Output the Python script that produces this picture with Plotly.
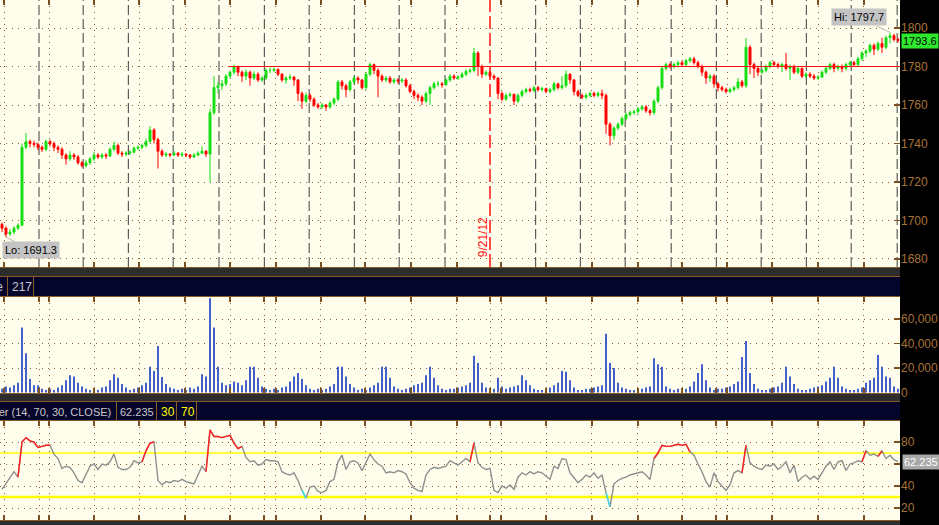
import plotly.graph_objects as go

W, H = 939, 525
FONT = "Liberation Sans, Arial, sans-serif"
FS = 11

# ---------------- data (30-min bars) ----------------
first_open = 1698.0
close = [
    1696, 1693, 1694, 1696, 1697.5, 1738, 1741, 1740, 1739.5, 1738,
    1737, 1741, 1740, 1738, 1737, 1734, 1732, 1734, 1733, 1730,
    1728.5, 1730, 1732, 1734, 1733, 1734, 1733.5, 1737, 1739, 1735,
    1734.5, 1735, 1735.5, 1737.5, 1738, 1739, 1741, 1747, 1742, 1736,
    1734, 1734.5, 1734, 1735, 1734, 1734.5, 1734, 1733, 1734, 1735,
    1736, 1734.5, 1756, 1769, 1770, 1771, 1775, 1777, 1780, 1777,
    1775, 1777, 1774, 1776, 1773, 1774, 1778, 1778, 1778.5, 1776,
    1773, 1774, 1774.5, 1773, 1766, 1762, 1765, 1763, 1760, 1759,
    1760, 1759, 1761, 1763, 1772, 1770, 1768, 1772, 1774, 1773,
    1769, 1776, 1781, 1778, 1775, 1773, 1774, 1772, 1773, 1772.5,
    1773, 1770, 1767, 1765, 1764, 1762, 1766, 1769, 1771, 1771,
    1770.5, 1773, 1775, 1774, 1774.5, 1776, 1777.5, 1778, 1787, 1780,
    1776, 1777, 1775, 1774, 1766, 1763, 1765, 1765.5, 1762, 1765,
    1767, 1768, 1767.5, 1769, 1768, 1768.5, 1767, 1768, 1771, 1769,
    1770, 1776, 1773, 1767, 1765, 1764, 1765, 1766, 1765, 1766,
    1765, 1750, 1744, 1748, 1750, 1753, 1755, 1756, 1756.5, 1758,
    1759, 1757, 1756, 1762, 1769, 1779, 1781, 1780, 1781, 1782,
    1781, 1783, 1784, 1782, 1780, 1777, 1774, 1775, 1771, 1769,
    1768, 1767, 1768, 1769, 1772, 1770, 1790, 1781, 1779, 1777,
    1778, 1780, 1782, 1781, 1780, 1781, 1779, 1780, 1777, 1779,
    1775, 1776, 1775, 1774, 1774.5, 1777, 1779, 1781, 1779, 1780,
    1779, 1781, 1782, 1781, 1784, 1787, 1788, 1791, 1789, 1792,
    1790, 1795, 1796, 1794, 1793.6,
]
high = [
    1699, 1697, 1695.5, 1697, 1698.5, 1740, 1745.5, 1742, 1741.5, 1740.5,
    1739, 1742, 1742, 1741, 1739, 1738, 1735, 1736, 1735, 1734,
    1731, 1731.5, 1733, 1735.5, 1735, 1735, 1735, 1738, 1741, 1740,
    1736, 1736, 1736.5, 1738.5, 1739, 1740, 1742.5, 1749, 1748, 1743,
    1737, 1735.5, 1735, 1736, 1735.5, 1735.5, 1735, 1734.5, 1735, 1736,
    1738.5, 1736.5, 1758, 1775, 1772, 1773, 1776, 1778, 1781, 1780.5,
    1778, 1778.5, 1778, 1777.5, 1777, 1775, 1779, 1779.5, 1779.5, 1779,
    1776.5, 1775, 1776, 1775, 1773.5, 1767, 1766.5, 1766, 1764, 1761,
    1761, 1760.5, 1762, 1764, 1773, 1773, 1771, 1773, 1775, 1775,
    1773.5, 1777, 1782, 1781.5, 1779, 1776, 1775, 1775, 1774, 1774,
    1774, 1774, 1771, 1768, 1766, 1765, 1767, 1770, 1772, 1772.5,
    1772, 1774, 1776, 1776, 1775.5, 1777, 1778.5, 1779, 1789.6, 1788,
    1781, 1778, 1778, 1776, 1774.5, 1767, 1766, 1766.5, 1766, 1766,
    1768, 1769, 1769, 1770, 1770, 1769.5, 1769, 1769, 1772, 1771.5,
    1775, 1778, 1776.5, 1773.5, 1768, 1766, 1766, 1767, 1767, 1767,
    1768, 1766, 1751, 1749, 1751, 1754, 1756, 1757, 1757.5, 1759,
    1760, 1760, 1758, 1763, 1770, 1780, 1782, 1782, 1782, 1783,
    1783, 1784, 1785, 1785, 1783, 1781, 1778, 1776, 1776, 1772,
    1770, 1769, 1769, 1770, 1774, 1773, 1794.8, 1791, 1782, 1780,
    1779, 1781, 1783, 1783, 1782, 1782, 1787, 1781, 1781, 1780,
    1779.5, 1777, 1777, 1776, 1775.5, 1778, 1780, 1782, 1782, 1781,
    1781, 1782, 1783, 1783, 1785, 1788, 1789, 1792, 1792, 1793,
    1795, 1796, 1797.7, 1797, 1795,
]
low = [
    1694, 1691.3, 1692, 1693, 1695, 1697, 1737, 1738, 1738, 1736.5,
    1735.5, 1736, 1738.5, 1736, 1735, 1732, 1729, 1731, 1731.5, 1729,
    1727.5, 1727.5, 1729, 1731, 1732, 1732, 1732, 1733, 1736, 1734,
    1733, 1733.5, 1734, 1735, 1736.5, 1737, 1738, 1740.5, 1740, 1727,
    1733, 1733, 1733, 1733.5, 1733, 1733, 1733, 1732, 1732.5, 1733.5,
    1734.5, 1733, 1720, 1755, 1766, 1768, 1770, 1774, 1776, 1775,
    1772, 1773, 1770, 1773, 1772, 1772, 1773, 1776.5, 1777, 1775,
    1772, 1771, 1773, 1770, 1762, 1758, 1761, 1761.5, 1759, 1758,
    1758, 1757, 1758, 1760, 1762, 1768, 1764, 1767, 1771, 1771,
    1768, 1768, 1775, 1776, 1764, 1772, 1772, 1771, 1771, 1771,
    1771.5, 1769, 1766, 1763, 1762, 1760, 1761, 1760, 1768, 1769.5,
    1769, 1770, 1772, 1773, 1773, 1774, 1775, 1776.5, 1777, 1775,
    1774, 1775, 1774, 1773, 1763, 1762, 1762, 1764, 1760, 1761,
    1764, 1766, 1766.5, 1766.5, 1767, 1767, 1766, 1766, 1767, 1768,
    1768, 1769, 1771, 1765, 1764, 1763, 1763, 1764, 1764, 1764,
    1763, 1745, 1739, 1742, 1747, 1749, 1752, 1754, 1755, 1755.5,
    1757, 1756, 1754.5, 1755, 1761, 1768, 1778, 1779, 1779, 1780,
    1780, 1780, 1782, 1781, 1779, 1775, 1771, 1772, 1769, 1767,
    1767, 1766, 1766, 1767, 1768, 1769, 1769, 1776, 1774, 1775,
    1776, 1777, 1779, 1780, 1779, 1777, 1778, 1773, 1776, 1776,
    1774, 1774, 1774, 1773, 1773, 1774, 1776, 1778, 1777, 1778,
    1777, 1778, 1780, 1780, 1780, 1783, 1785, 1787, 1786, 1788,
    1787, 1789, 1792, 1793, 1792.5,
]
volume = [
    3000, 5000, 4000, 6000, 8000, 53000, 32000, 11000, 6000, 6000,
    3000, 2000, 3000, 2000, 4000, 6000, 10000, 14000, 13000, 8000,
    5000, 3000, 2000, 3000, 2000, 4000, 5000, 10000, 15000, 12000,
    7000, 4000, 2000, 3000, 4000, 6000, 8000, 21000, 17500, 38000,
    12700, 7000, 4000, 3000, 2000, 3000, 2000, 4000, 3000, 5000,
    15000, 13000, 77000, 53000, 21000, 8000, 6000, 7000, 9000, 8000,
    6000, 10000, 21000, 21000, 12000, 5000, 3000, 2000, 3000, 2000,
    4000, 5000, 9000, 13000, 16000, 11000, 6000, 3000, 2000, 3000,
    2000, 3000, 5000, 7000, 21000, 21000, 13000, 7000, 4000, 2000,
    3000, 2000, 4000, 6000, 8000, 21000, 21000, 12000, 5000, 3000,
    2000, 3000, 4000, 6000, 7000, 8000, 14000, 21000, 12000, 6000,
    3000, 2000, 3000, 3000, 4000, 5000, 6000, 8000, 30000, 24000,
    8000, 4000, 2000, 3000, 12000, 5000, 3000, 4000, 5000, 6000,
    14000, 10000, 6000, 3000, 2000, 2000, 3000, 4000, 6000, 8000,
    17500, 17000, 10000, 4000, 2000, 2000, 3000, 3000, 4000, 5000,
    6000, 48000, 24000, 20000, 8000, 4000, 3000, 2000, 2000, 3000,
    3000, 4000, 5000, 28000, 23000, 21000, 5000, 3000, 2000, 3000,
    2000, 3000, 5000, 9000, 16000, 23000, 10000, 4000, 2000, 3000,
    3000, 4000, 5000, 7000, 9000, 29000, 42000, 16000, 7000, 3000,
    2000, 2000, 3000, 4000, 5000, 8000, 21000, 13000, 7000, 3000,
    2000, 2000, 3000, 4000, 5000, 6000, 9000, 12000, 21000, 12000,
    5000, 3000, 2000, 2000, 3000, 4000, 8000, 10000, 12000, 30600,
    21000, 13000, 12000, 5000, 3000,
]
rsi = [
    37, 42, 48, 53, 48, 80, 84, 81, 80, 75,
    76, 77, 77, 69, 65, 56, 58, 57, 52, 45,
    43, 50, 58, 60, 55, 60, 59, 62, 69, 57,
    55, 55, 57, 63, 61, 62, 72, 79, 80, 45,
    41, 44, 43, 45, 44, 46, 44, 43, 42, 50,
    58, 53, 91, 85, 85, 84, 85, 86, 79, 74,
    76, 66, 62, 63, 59, 60, 64, 63, 63, 62,
    53, 51, 50, 52, 45, 36, 29, 39, 40, 35,
    34, 36, 44, 46, 62, 68, 55, 62, 63, 61,
    54, 62, 69, 64, 60, 58, 52, 53, 52, 54,
    53, 51, 43, 38, 36, 35, 50, 55, 57, 56,
    57, 58, 63, 61, 59, 62, 65, 62, 79, 61,
    57, 55, 56, 36, 34, 40, 38, 41, 37, 48,
    52, 50, 53, 51, 53, 52, 49, 46, 58, 56,
    65, 64, 52, 47, 43, 46, 50, 48, 52, 47,
    50, 34, 21, 42, 45, 47, 48, 50, 51, 52,
    53, 50, 46, 65, 70, 77, 76, 76, 77, 78,
    77, 78, 71, 68, 60, 53, 44, 39, 52, 44,
    40, 36, 41, 52, 54, 52, 77, 61, 58, 56,
    55, 59, 58, 60, 55, 58, 62, 52, 59, 44,
    48, 50, 46, 49, 46, 52, 58, 62, 55, 62,
    63, 54, 60, 61, 63, 62, 72, 68, 69, 67,
    72, 65, 68, 64, 62.235,
]

price_ticks = [1680, 1700, 1720, 1740, 1760, 1780, 1800]
vol_ticks = [0, 20000, 40000, 60000]
rsi_ticks = [20, 40, 60, 80]
rsi_tick_text = ["20", "40", "", "80"]   # 60 is hidden behind the value tag
rsi_upper, rsi_lower = 70, 30

# time grid positions, in bar-index units
grid_pos = [0.5, 11.8, 23.1, 34.3, 45.8, 57.1, 68.4, 79.7, 90.8, 102.3,
            113.7, 124.8, 136.1, 147.4, 158.9, 170.1, 181.3, 192.6, 204.1, 215.4]
session_pos = [9.25, 20.3, 31.6, 42.8, 54.25, 65.6, 76.8, 88.1, 99.3, 110.75,
               133.4, 144.6, 155.8, 167.3, 178.6, 189.8, 201.1, 212.3, 223.8]
week_pos = [9.25, 65.6, 122, 178.6]
date_marker_pos = 122
date_marker_label = "9/21/12"
ref_level = 1780
ref_level_start = 56.75
hi_bar, hi_val = 222, 1797.7
lo_bar, lo_val = 1, 1691.3
last_price = 1793.6
last_rsi = 62.235

N = len(close)
xs = list(range(N))
opens = [first_open] + close[:-1]

# ---------------- colours ----------------
BG = "#fffdeb"
GRID = "#8a5c2e"
TICK = "#7a4f22"
LABEL = "#a87238"
GREEN = "#16dd16"
RED = "#ff0000"
NAVY = "#05052b"
CHECK = "#2d2d2d"
HDR = "#c8c8c8"
BROWN = "#8a5a26"

PX = 900  # plot area right edge (px)


def ydom(top, bot):
    return [1 - bot / H, 1 - top / H]


fig = go.Figure()

fig.add_trace(go.Candlestick(
    x=xs, open=opens, high=high, low=low, close=close,
    increasing=dict(line=dict(color=GREEN, width=1), fillcolor=GREEN),
    decreasing=dict(line=dict(color=RED, width=1), fillcolor=RED),
    whiskerwidth=0, xaxis="x", yaxis="y", hoverinfo="skip",
))

fig.add_trace(go.Bar(
    x=xs, y=volume, marker=dict(color="#2142c4", line=dict(width=0)),
    width=0.42, xaxis="x2", yaxis="y2", hoverinfo="skip",
))

n = len(rsi)
rsi_hi = [v if (v >= rsi_upper or (k + 1 < n and rsi[k + 1] >= rsi_upper)) else None
          for k, v in enumerate(rsi)]
rsi_lo = [v if (v < rsi_lower or (k + 1 < n and rsi[k + 1] < rsi_lower)) else None
          for k, v in enumerate(rsi)]
fig.add_trace(go.Scatter(x=xs, y=rsi, mode="lines", line=dict(color="#8f8f8f", width=1.4),
                         xaxis="x3", yaxis="y3", hoverinfo="skip"))
fig.add_trace(go.Scatter(x=xs, y=rsi_hi, mode="lines", line=dict(color="#ff2020", width=1.4),
                         connectgaps=False, xaxis="x3", yaxis="y3", hoverinfo="skip"))
fig.add_trace(go.Scatter(x=xs, y=rsi_lo, mode="lines", line=dict(color="#33e0f0", width=1.4),
                         connectgaps=False, xaxis="x3", yaxis="y3", hoverinfo="skip"))

xcommon = dict(
    range=[-0.5, N - 0.5], domain=[0, PX / W], showticklabels=False,
    showgrid=True, gridcolor=GRID, griddash="1px,5px", gridwidth=1,
    ticks="inside", ticklen=5, tickwidth=2, tickcolor=TICK, mirror="ticks",
    zeroline=False, showline=False, tickmode="array", fixedrange=True, automargin=False,
)
lower_grid = sorted(grid_pos + week_pos)
ycommon = dict(
    side="right", showgrid=True, gridcolor=GRID, griddash="1px,5px", gridwidth=1,
    ticks="inside", ticklen=6, tickwidth=1.5, tickcolor=TICK, zeroline=False,
    showline=False, tickmode="array", fixedrange=True, automargin=False,
    tickfont=dict(family=FONT, size=12, color=LABEL),
)

fig.update_layout(
    width=W, height=H, autosize=False,
    margin=dict(l=0, r=0, t=0, b=0, pad=0, autoexpand=False),
    paper_bgcolor="#000000", plot_bgcolor=BG, showlegend=False,
    hovermode=False,
    xaxis=dict(xcommon, tickvals=grid_pos, anchor="y", rangeslider=dict(visible=False)),
    xaxis2=dict(xcommon, tickvals=lower_grid, anchor="y2", matches="x"),
    xaxis3=dict(xcommon, tickvals=lower_grid, anchor="y3", matches="x"),
    yaxis=dict(ycommon, domain=ydom(0, 267), range=[1675.84, 1814.55],
               tickvals=price_ticks, anchor="x"),
    yaxis2=dict(ycommon, domain=ydom(297, 393), range=[-400, 77960],
                tickvals=vol_ticks, tickformat=",d", anchor="x2"),
    yaxis3=dict(ycommon, domain=ydom(421, 520), range=[9.1, 99.1],
                tickvals=rsi_ticks, ticktext=rsi_tick_text, anchor="x3"),
)

shapes = []


def prect(x0, y0, x1, y1, color):
    shapes.append(dict(type="rect", xref="paper", yref="paper",
                       x0=x0 / W, x1=x1 / W, y0=1 - y1 / H, y1=1 - y0 / H,
                       fillcolor=color, line=dict(width=0), layer="above"))


def phline(y, x0, x1, color, width=1):
    shapes.append(dict(type="line", xref="paper", yref="paper",
                       x0=x0 / W, x1=x1 / W, y0=1 - y / H, y1=1 - y / H,
                       line=dict(color=color, width=width), layer="above"))


def pvline(x, y0, y1, color, width=1):
    shapes.append(dict(type="line", xref="paper", yref="paper",
                       x0=x / W, x1=x / W, y0=1 - y0 / H, y1=1 - y1 / H,
                       line=dict(color=color, width=width), layer="above"))


# separator bands and indicator header bars
prect(0, 267, PX, 276, CHECK)
phline(267.5, 0, PX, BROWN)
prect(0, 276, PX, 296.5, NAVY)
phline(276.5, 0, PX, BROWN)
phline(296.5, 0, PX, BROWN)
prect(0, 393, PX, 401, CHECK)
phline(393.5, 0, PX, BROWN)
prect(0, 401, PX, 421, NAVY)
phline(401.5, 0, PX, BROWN)
phline(420.5, 0, PX, BROWN)
prect(0, 520, PX, 525, CHECK)
phline(520.5, 0, PX, BROWN)
for xv in [7.5, 33.5]:
    pvline(xv, 277, 296, BROWN)
for xv in [116.5, 156.5, 176.5, 196.5]:
    pvline(xv, 402, 420, BROWN)

# session separators (dashed)
for p in session_pos:
    shapes.append(dict(type="line", xref="x", yref="y domain", x0=p, x1=p, y0=0, y1=1,
                       line=dict(color="#5c5c5c", width=1.2, dash="10px,4px"), layer="below"))
# date marker
shapes.append(dict(type="line", xref="x", yref="y domain", x0=date_marker_pos, x1=date_marker_pos,
                   y0=0, y1=1, line=dict(color="#ff1010", width=1.5, dash="13px,4px"), layer="above"))
# reference level line
shapes.append(dict(type="line", xref="x", yref="y", x0=ref_level_start, x1=N - 0.5,
                   y0=ref_level, y1=ref_level, line=dict(color="#ff1010", width=1.2), layer="above"))
# RSI threshold lines
shapes.append(dict(type="line", xref="x3", yref="y3", x0=-0.5, x1=N - 0.5, y0=rsi_upper, y1=rsi_upper,
                   line=dict(color="#ffff00", width=1.3), layer="below"))
shapes.append(dict(type="line", xref="x3", yref="y3", x0=-0.5, x1=N - 0.5, y0=rsi_lower, y1=rsi_lower,
                   line=dict(color="#ffff00", width=2.5), layer="below"))

fig.update_layout(shapes=shapes)

ann = []
ann.append(dict(xref="x", yref="y", x=hi_bar, y=hi_val, text=f"Hi: {hi_val}",
                showarrow=True, arrowhead=0, arrowwidth=1, arrowcolor="#b8b8b8",
                ax=-31, ay=-15, bgcolor="#c4c4c4", borderpad=2,
                font=dict(family=FONT, size=FS, color="#000000")))
ann.append(dict(xref="x", yref="y", x=lo_bar, y=lo_val, text=f"Lo: {lo_val}",
                showarrow=True, arrowhead=0, arrowwidth=1, arrowcolor="#b8b8b8",
                ax=25, ay=13, bgcolor="#c4c4c4", borderpad=2,
                font=dict(family=FONT, size=FS, color="#000000")))
ann.append(dict(xref="paper", yref="y", x=901 / W, y=last_price, yshift=-1, xanchor="left",
                yanchor="middle", text=f"{last_price}", showarrow=False, bgcolor="#2ee82e",
                borderpad=1, font=dict(family=FONT, size=FS, color="#000000")))
ann.append(dict(xref="paper", yref="y3", x=902 / W, y=last_rsi, xanchor="left", yanchor="middle",
                text=f"{last_rsi}", showarrow=False, bgcolor="#a8a8a8", borderpad=1,
                font=dict(family=FONT, size=FS, color="#ffffff")))
ann.append(dict(xref="x", yref="y", x=date_marker_pos - 1.7, y=1691.4, text=date_marker_label,
                textangle=-90, showarrow=False, yanchor="middle",
                font=dict(family=FONT, size=12, color="#ff1010")))
# header texts
hdr_vol_y = 1 - 286.5 / H
hdr_rsi_y = 1 - 411.5 / H
ann.append(dict(xref="paper", yref="paper", x=5 / W, y=hdr_vol_y, xanchor="right", yanchor="middle",
                text="Volume", showarrow=False, font=dict(family=FONT, size=12, color=HDR)))
ann.append(dict(xref="paper", yref="paper", x=10 / W, y=hdr_vol_y, xanchor="left", yanchor="middle",
                text="217", showarrow=False, font=dict(family=FONT, size=12, color=HDR)))
ann.append(dict(xref="paper", yref="paper", x=113 / W, y=hdr_rsi_y, xanchor="right", yanchor="middle",
                text="RSIWilder (14, 70, 30, CLOSE)", showarrow=False,
                font=dict(family=FONT, size=FS, color=HDR)))
ann.append(dict(xref="paper", yref="paper", x=118 / W, y=hdr_rsi_y, xanchor="left", yanchor="middle",
                text=f"{last_rsi}", showarrow=False, font=dict(family=FONT, size=FS, color=HDR)))
ann.append(dict(xref="paper", yref="paper", x=159 / W, y=hdr_rsi_y, xanchor="left", yanchor="middle",
                text=f"{rsi_lower}", showarrow=False, font=dict(family=FONT, size=12, color="#ffff00")))
ann.append(dict(xref="paper", yref="paper", x=179 / W, y=hdr_rsi_y, xanchor="left", yanchor="middle",
                text=f"{rsi_upper}", showarrow=False, font=dict(family=FONT, size=12, color="#ffff00")))
fig.update_layout(annotations=ann)

fig.write_html(
    "out.html",
    config={"displayModeBar": False, "staticPlot": True, "responsive": False},
    post_script=(
        "var s=document.documentElement.style;s.margin='0';s.padding='0';s.overflow='hidden';"
        "s.height='525px';s.background='#000';"
        "var b=document.body.style;b.margin='0';b.padding='0';b.overflow='hidden';b.height='525px';"
        "var d=document.querySelector('.plotly-graph-div');"
        "d.style.position='fixed';d.style.left='0px';d.style.top='0px';"
    ),
)
